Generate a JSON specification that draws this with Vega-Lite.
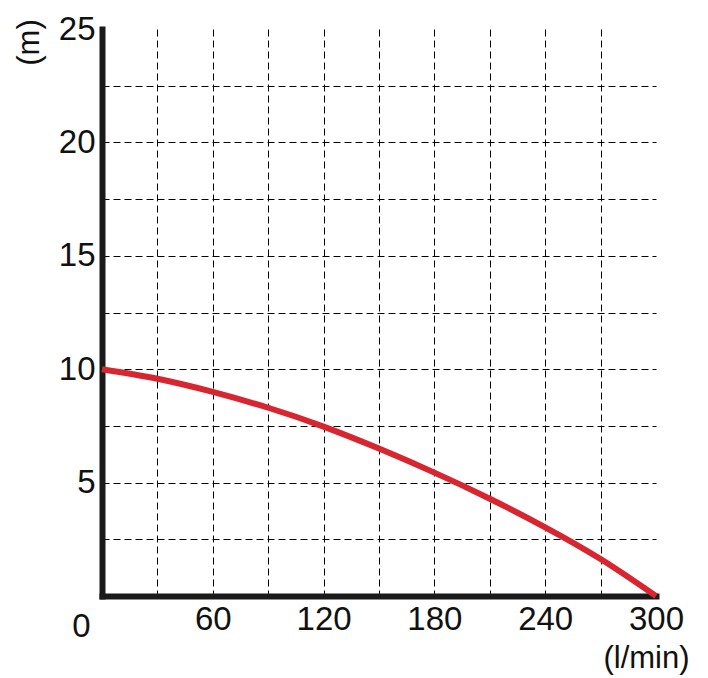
{
  "$schema": "https://vega.github.io/schema/vega-lite/v6.json",
  "width": 554,
  "height": 567,
  "autosize": {"type": "none"},
  "padding": {"left": 102, "top": 29, "right": 52, "bottom": 82},
  "background": "white",
  "config": {
    "view": {"stroke": null},
    "font": "Liberation Sans"
  },
  "data": {
    "values": [
      {"flow": 0, "head": 10.0},
      {"flow": 30, "head": 9.58},
      {"flow": 60, "head": 9.0},
      {"flow": 90, "head": 8.3},
      {"flow": 120, "head": 7.47},
      {"flow": 150, "head": 6.5},
      {"flow": 180, "head": 5.44},
      {"flow": 210, "head": 4.29},
      {"flow": 240, "head": 3.03},
      {"flow": 270, "head": 1.63},
      {"flow": 300, "head": 0}
    ]
  },
  "mark": {"type": "line", "color": "#d7262f", "strokeWidth": 6, "interpolate": "natural", "strokeCap": "butt"},
  "encoding": {
    "x": {
      "field": "flow",
      "type": "quantitative",
      "scale": {"domain": [0, 300], "nice": false, "zero": true},
      "axis": {
        "values": [0, 30, 60, 90, 120, 150, 180, 210, 240, 270, 300],
        "format": "d",
        "labelExpr": "datum.value % 60 == 0 ? datum.label : ''",
        "labelOffset": {"condition": {"test": "datum.value == 0", "value": -21}, "value": 0},
        "labelPadding": {"condition": {"test": "datum.value == 0", "value": 14}, "value": 7},
        "labelFlush": false,
        "labelOverlap": false,
        "labelBound": false,
        "labelFontSize": 33,
        "labelColor": "#111111",
        "labelFont": "Liberation Sans",
        "ticks": false,
        "tickSize": 0,
        "domain": true,
        "domainColor": "#1a1a1a",
        "domainWidth": 6,
        "domainCap": "square",
        "grid": true,
        "gridColor": "#000000",
        "gridWidth": 1,
        "gridDash": [7, 4],
        "gridOpacity": {"condition": {"test": "datum.value == 0 || datum.value == 300", "value": 0}, "value": 1},
        "title": "(l/min)",
        "titleFont": "Liberation Sans",
        "titleFontSize": 31,
        "titleFontWeight": "normal",
        "titleColor": "#111111",
        "titleAlign": "center",
        "titleBaseline": "middle",
        "titleX": 544,
        "titleY": 62
      }
    },
    "y": {
      "field": "head",
      "type": "quantitative",
      "scale": {"domain": [0, 25], "nice": false},
      "axis": {
        "values": [0, 2.5, 5, 7.5, 10, 12.5, 15, 17.5, 20, 22.5, 25],
        "format": "d",
        "labelExpr": "datum.value % 5 == 0 && datum.value > 0 ? datum.label : ''",
        "labelPadding": 7,
        "labelOverlap": false,
        "labelFlush": false,
        "labelBound": false,
        "labelFontSize": 33,
        "labelColor": "#111111",
        "labelFont": "Liberation Sans",
        "ticks": false,
        "tickSize": 0,
        "domain": true,
        "domainColor": "#1a1a1a",
        "domainWidth": 6,
        "domainCap": "square",
        "grid": true,
        "gridColor": "#000000",
        "gridWidth": 1,
        "gridDash": [7, 4],
        "gridOpacity": {"condition": {"test": "datum.value == 0 || datum.value == 25", "value": 0}, "value": 1},
        "title": "(m)",
        "titleFont": "Liberation Sans",
        "titleFontSize": 31,
        "titleFontWeight": "normal",
        "titleColor": "#111111",
        "titleAngle": 270,
        "titleAlign": "center",
        "titleBaseline": "middle",
        "titleX": -73,
        "titleY": 13
      }
    }
  }
}
